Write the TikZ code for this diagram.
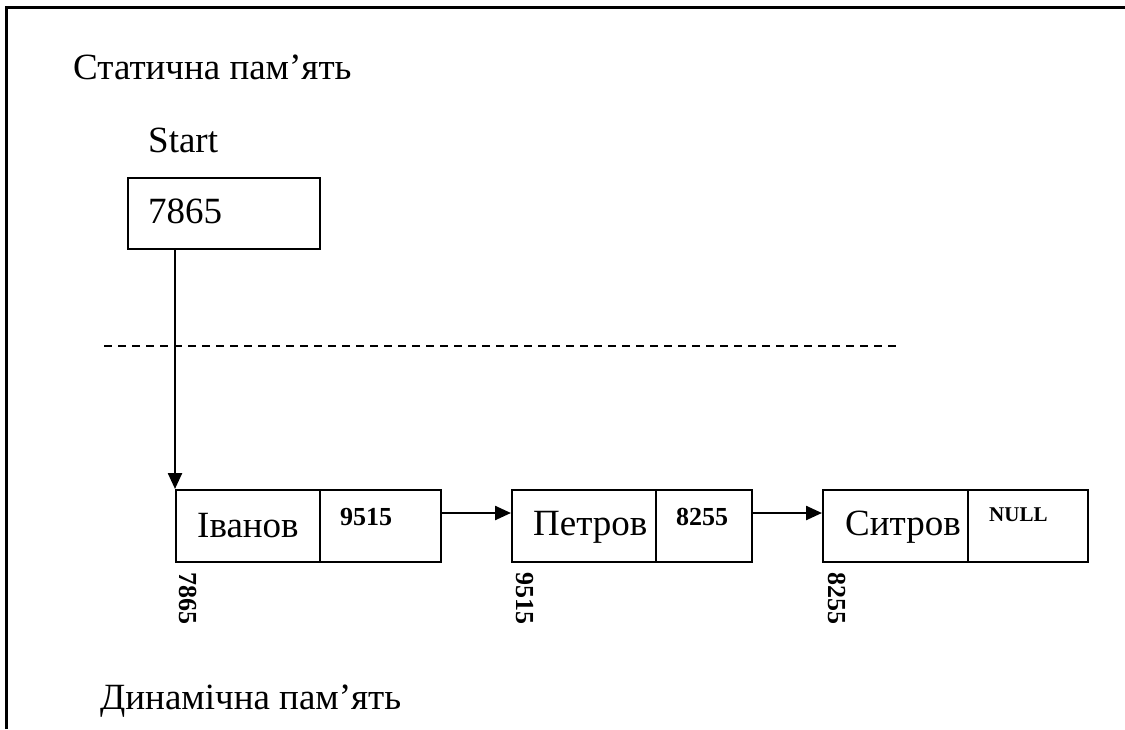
\documentclass[tikz,border=0pt]{standalone}
\usepackage{fontspec}
\setmainfont{Liberation Serif}
\usetikzlibrary{arrows.meta,calc}
\begin{document}
\begin{tikzpicture}[x=1pt,y=-1pt,
  bigtext/.style={inner sep=0pt,anchor=base west,font=\fontsize{37}{44}\selectfont},
  smallbold/.style={inner sep=0pt,anchor=base west,font=\fontsize{26}{30}\selectfont\bfseries},
  nullbold/.style={inner sep=0pt,anchor=base west,font=\fontsize{21}{25}\selectfont\bfseries},
  addrlabel/.style={inner sep=0pt,anchor=center,rotate=-90,font=\fontsize{26}{30}\selectfont\bfseries},
  cell/.style={draw,line width=2pt,inner sep=0pt,minimum height=72pt},
  link/.style={line width=2.4pt,-{Triangle[length=16pt,width=14pt]}},
  sep/.style={line width=2.2pt,dash pattern=on 8pt off 6pt},
  framel/.style={line width=3pt}
]
\useasboundingbox (0,0) rectangle (1125,729);
% frame (top and left only)
\coordinate (fA) at (6,729);
\coordinate (fB) at (6,7.5);
\coordinate (fC) at (1125,7.5);
\draw[framel] (fA) -- (fB) -- (fC);

% static memory
\node[bigtext] (stat) at (73,79) {Статична пам’ять};
\node[bigtext] (startlbl) at (148,152) {Start};
\node[draw,line width=2pt,inner sep=0pt,minimum width=192pt,minimum height=71pt] (startbox) at (224,213.5) {};
\node[bigtext] (startval) at (148,223) {7865};

% separator
\coordinate (d1) at (104,346);
\coordinate (d2) at (897,346);
\draw[sep] (d1) -- (d2);

% list cells
\node[cell,minimum width=144pt] (c1a) at (248,526) {};
\node[cell,minimum width=121pt] (c1b) at (380.5,526) {};
\node[cell,minimum width=144pt] (c2a) at (584,526) {};
\node[cell,minimum width=96pt] (c2b) at (704,526) {};
\node[cell,minimum width=145pt] (c3a) at (895.5,526) {};
\node[cell,minimum width=120pt] (c3b) at (1028,526) {};

\node[bigtext] (n1) at (197,537) {Іванов};
\node[bigtext] (n2) at (533,535) {Петров};
\node[bigtext] (n3) at (845,535) {Ситров};

\node[smallbold] (p1) at (340,525) {9515};
\node[smallbold] (p2) at (676,525) {8255};
\node[nullbold] (p3) at (989,521) {NULL};

\node[addrlabel] (a1) at (188,598.5) {7865};
\node[addrlabel] (a2) at (525,598.5) {9515};
\node[addrlabel] (a3) at (837,598.5) {8255};

% connectors
\draw[link] (c1a.north west |- startbox.south) -- (c1a.north west);
\draw[link] ($(c1b.north east)+(0,24)$) -- ($(c2a.north west)+(0,24)$);
\draw[link] ($(c2b.north east)+(0,24)$) -- ($(c3a.north west)+(0,24)$);

% dynamic memory
\node[bigtext] (dyn) at (100,709) {Динамічна пам’ять};
\end{tikzpicture}
\end{document}
